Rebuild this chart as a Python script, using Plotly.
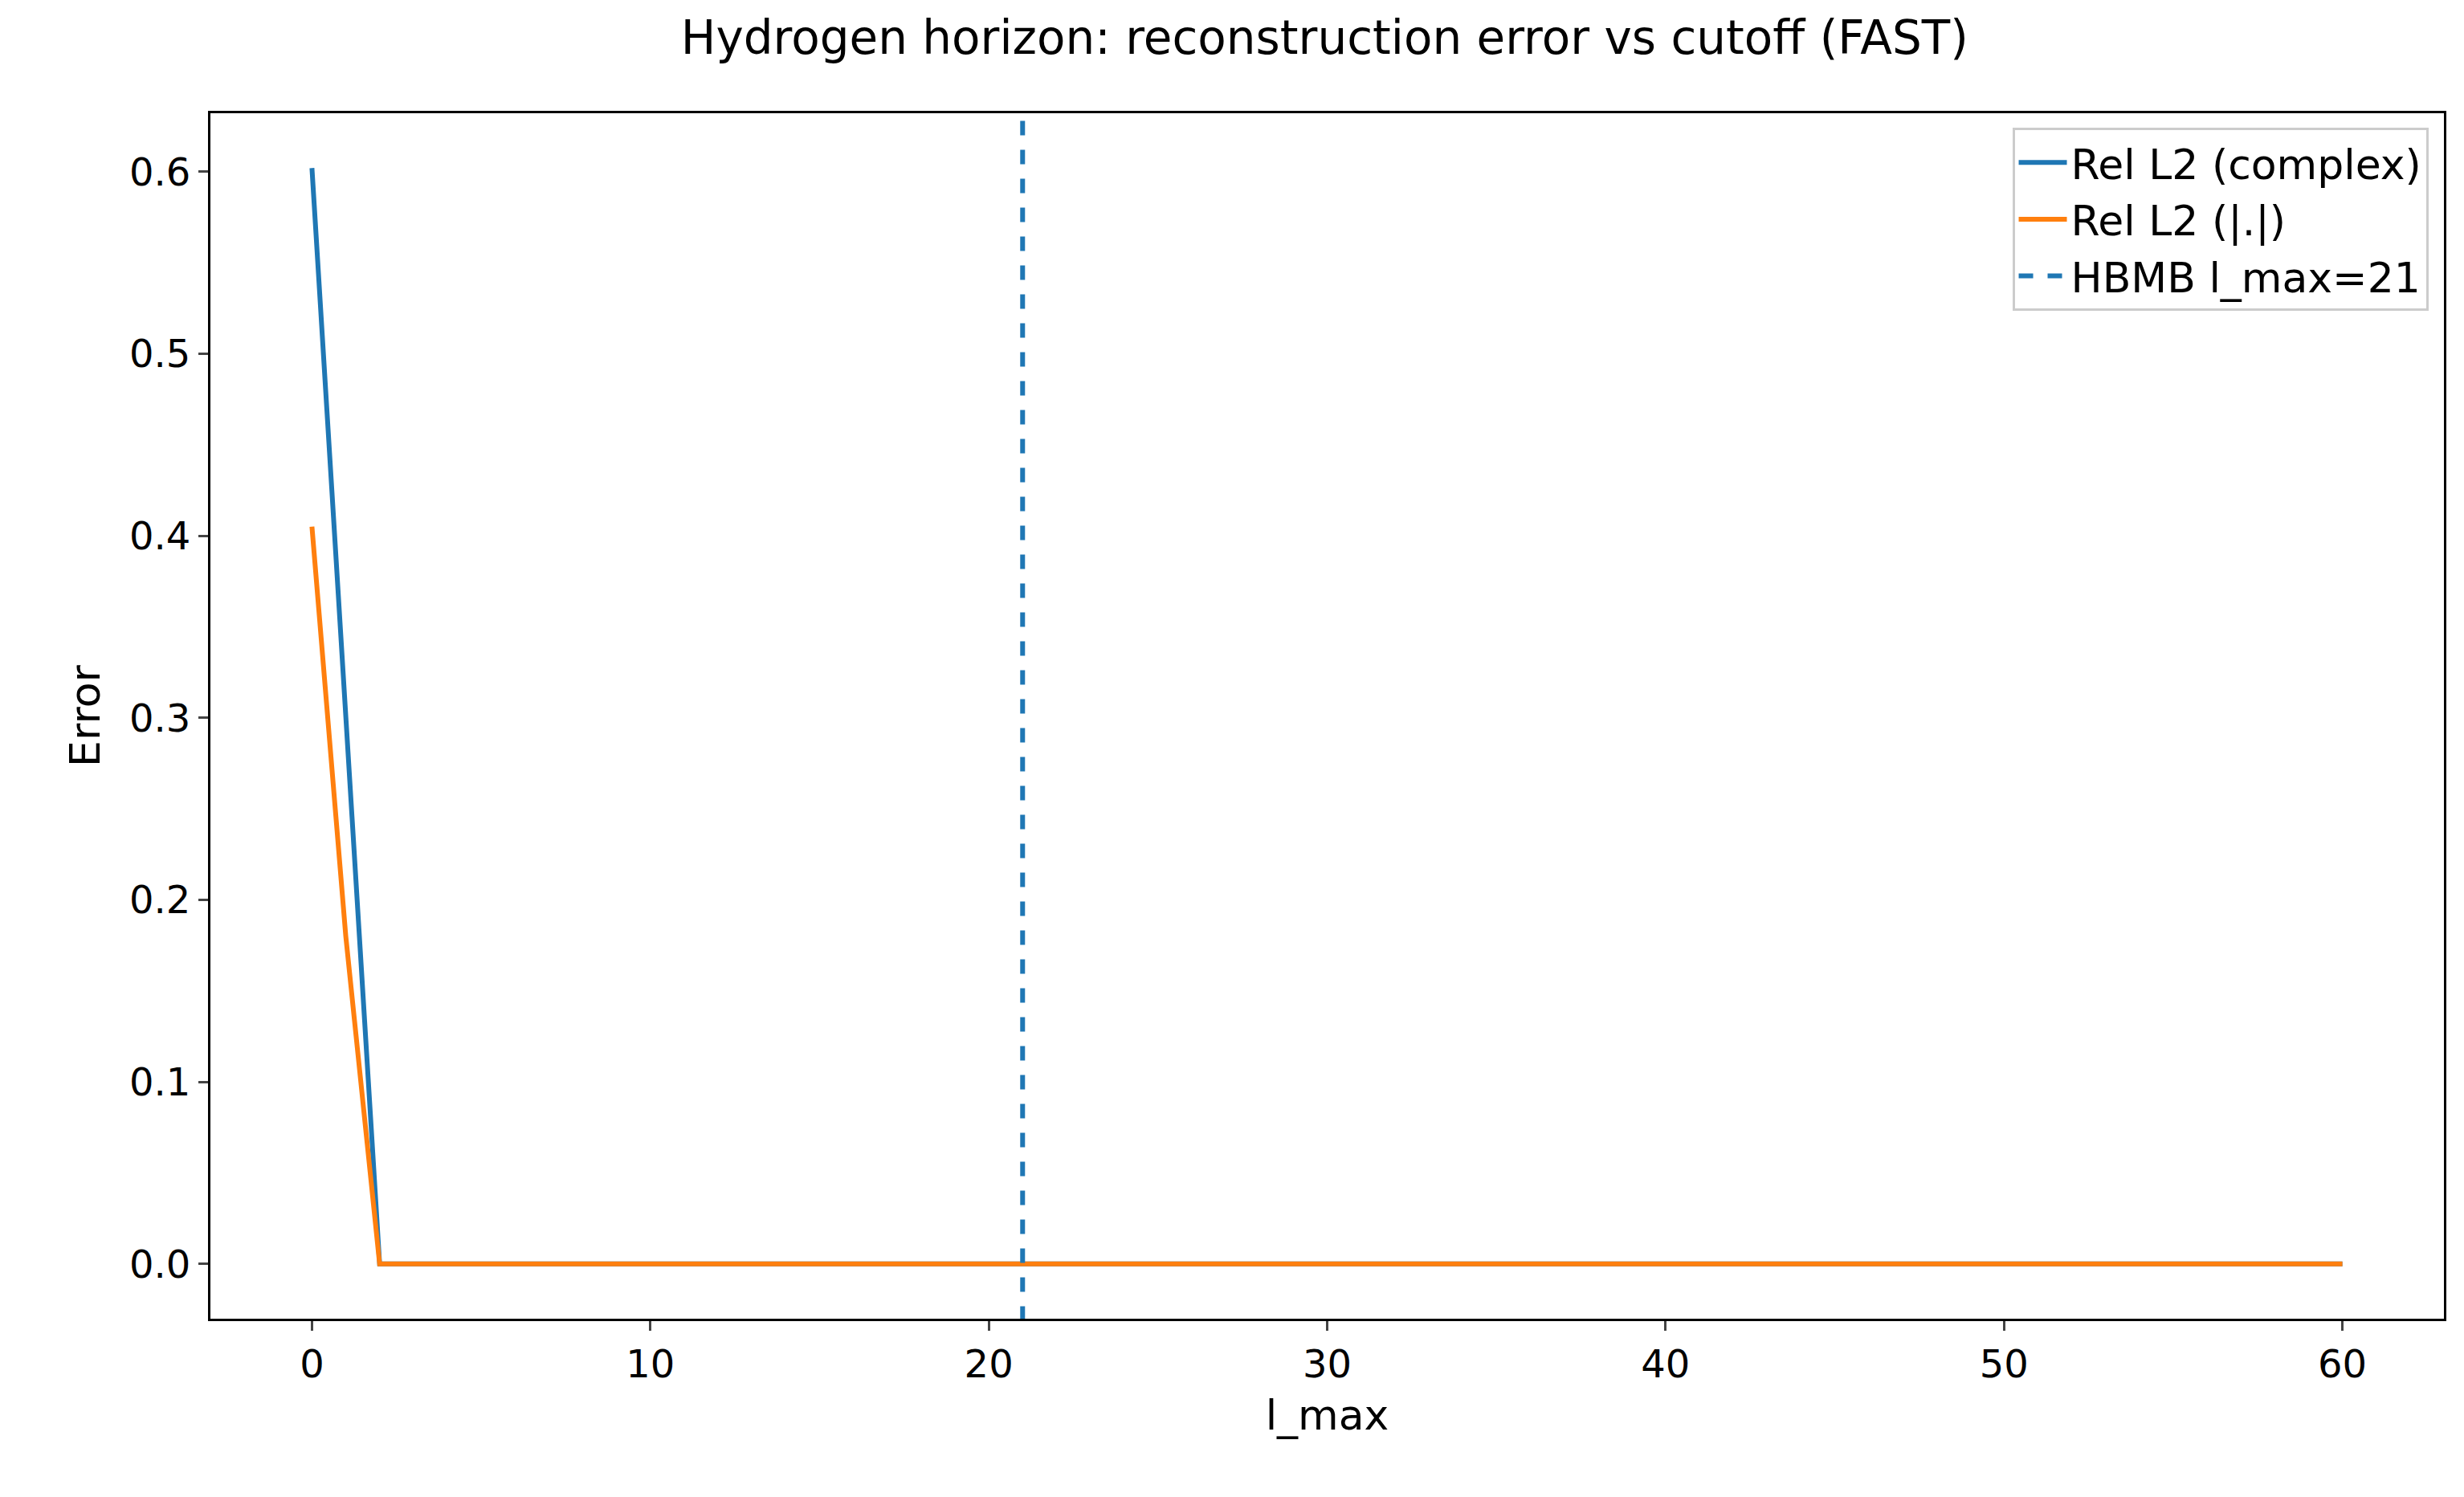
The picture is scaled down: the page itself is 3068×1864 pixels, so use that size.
import plotly.graph_objects as go

l_max = list(range(0, 61))
rel_complex = [0.602, 0.30] + [0.0] * 59
rel_abs = [0.405, 0.18] + [0.0] * 59
hbmb = 21

fig = go.Figure()
fig.add_trace(go.Scatter(x=l_max, y=rel_complex, mode="lines", name="Rel L2 (complex)",
                         line=dict(color="#1f77b4", width=6)))
fig.add_trace(go.Scatter(x=l_max, y=rel_abs, mode="lines", name="Rel L2 (|.|)",
                         line=dict(color="#ff7f0e", width=6)))
fig.add_trace(go.Scatter(x=[hbmb, hbmb], y=[-1, 2], mode="lines", name=f"HBMB l_max={hbmb}",
                         line=dict(color="#1f77b4", width=6, dash="dash")))

ax = dict(showline=True, linecolor="black", linewidth=3, mirror=True, ticks="outside",
          ticklen=12, tickwidth=3, showgrid=False, zeroline=False,
          tickfont=dict(size=48, color="black"))
fig.update_layout(
    width=3068, height=1864, plot_bgcolor="white", paper_bgcolor="white",
    font=dict(family="DejaVu Sans", color="black"),
    margin=dict(l=254, r=33, t=133, b=230),
    title=dict(text="Hydrogen horizon: reconstruction error vs cutoff (FAST)", x=0.535,
               xanchor="center", y=0.99, yanchor="top", font=dict(size=58)),
    xaxis=dict(**ax, range=[-3, 63], tickvals=[0, 10, 20, 30, 40, 50, 60],
               title=dict(text="l_max", font=dict(size=52), standoff=20)),
    yaxis=dict(**ax, range=[-0.0301, 0.6321], tickvals=[0, 0.1, 0.2, 0.3, 0.4, 0.5, 0.6],
               tickformat=".1f", title=dict(text="Error", font=dict(size=52), standoff=20)),
    legend=dict(x=0.993, y=0.988, xanchor="right", yanchor="top", bgcolor="white",
                bordercolor="#cccccc", borderwidth=3, font=dict(size=52), itemwidth=60),
)
fig.write_html("out.html")
